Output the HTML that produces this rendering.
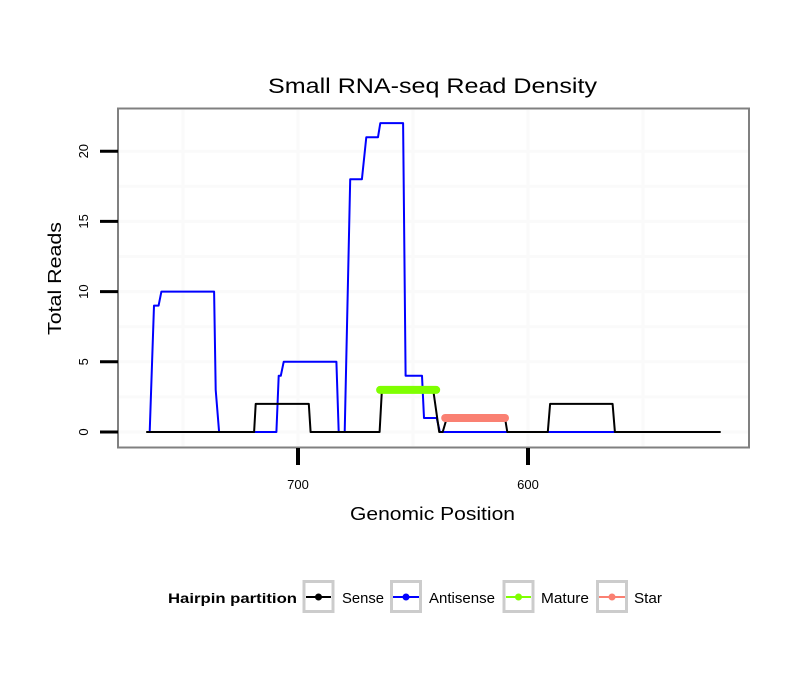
<!DOCTYPE html>
<html><head><meta charset="utf-8"><style>
body{margin:0;background:#fff;}
svg{display:block;font-family:"Liberation Sans",sans-serif;}
</style></head><body>
<svg id="chart" width="810" height="690" viewBox="0 0 810 690">
<rect x="0" y="0" width="810" height="690" fill="#fff"/>
<text x="268" y="93" font-size="21" textLength="329" lengthAdjust="spacingAndGlyphs" fill="#000">Small RNA-seq Read Density</text>
<g id="grid"></g>
<g id="series"></g>
<rect x="118" y="108.5" width="631" height="339" fill="none" stroke="#808080" stroke-width="2"/>
<g id="axes"></g>
<text x="350" y="520" font-size="18" textLength="165" lengthAdjust="spacingAndGlyphs">Genomic Position</text>
<text transform="translate(61,335) rotate(-90)" font-size="18" textLength="113" lengthAdjust="spacingAndGlyphs">Total Reads</text>
<g>
<text x="168" y="603" font-size="14" font-weight="bold" textLength="129" lengthAdjust="spacingAndGlyphs">Hairpin partition</text>
<g><rect x="304" y="581.5" width="29" height="30" fill="none" stroke="#ccc" stroke-width="3"/><line x1="306" y1="597" x2="331" y2="597" stroke="#000" stroke-width="2"/><circle cx="318.5" cy="597" r="3.5" fill="#000"/><text x="342" y="603" font-size="15" textLength="42" lengthAdjust="spacingAndGlyphs">Sense</text></g>
<g><rect x="391.5" y="581.5" width="29" height="30" fill="none" stroke="#ccc" stroke-width="3"/><line x1="393" y1="597" x2="419" y2="597" stroke="#0000ff" stroke-width="2"/><circle cx="406" cy="597" r="3.5" fill="#0000ff"/><text x="429" y="603" font-size="15" textLength="66" lengthAdjust="spacingAndGlyphs">Antisense</text></g>
<g><rect x="504" y="581.5" width="29" height="30" fill="none" stroke="#ccc" stroke-width="3"/><line x1="506" y1="597" x2="531" y2="597" stroke="#7fff00" stroke-width="2"/><circle cx="518.5" cy="597" r="3.5" fill="#7fff00"/><text x="541" y="603" font-size="15" textLength="48" lengthAdjust="spacingAndGlyphs">Mature</text></g>
<g><rect x="597.5" y="581.5" width="29" height="30" fill="none" stroke="#ccc" stroke-width="3"/><line x1="599" y1="597" x2="625" y2="597" stroke="#fa8072" stroke-width="2"/><circle cx="612" cy="597" r="3.5" fill="#fa8072"/><text x="634" y="603" font-size="15" textLength="28" lengthAdjust="spacingAndGlyphs">Star</text></g>
</g>
</svg>
<script>
const xTicks = [700, 600];
const xMinor = [750, 650, 550];
const yTicks = [0, 5, 10, 15, 20];
const yMinor = [2.5, 7.5, 12.5, 17.5];
const sensePos = [766, 719.1, 718.4, 695.3, 694.5, 664.5, 663.5, 641.2, 638.6, 637.1, 635.3, 610, 609, 591.4, 590.4, 563.2, 562.2, 516.2];
const senseVal = [0, 0, 2, 2, 0, 0, 3, 3, 0, 0, 1, 1, 0, 0, 2, 2, 0, 0];
const antiPos = [764.5, 762.6, 760.6, 759.4, 736.5, 735.8, 734.3, 709.4, 708.4, 707.5, 706.2, 683.3, 682.3, 679.7, 677.3, 672.2, 670.3, 665.2, 664.2, 654.3, 653.2, 646.1, 645.2, 639.7, 638.3, 516.5];
const antiVal = [0, 9, 9, 10, 10, 3, 0, 0, 4, 4, 5, 5, 0, 0, 18, 18, 21, 21, 22, 22, 4, 4, 1, 1, 0, 0];
const maturePos = [664.3, 639.9];
const matureVal = [3, 3];
const starPos = [636, 610];
const starVal = [1, 1];

const NS = 'http://www.w3.org/2000/svg';
const xs = p => 298 + (700 - p) * 2.3;
const ys = v => 432 - v * 14.04;
function mk(parent, tag, attrs) {
  const e = document.createElementNS(NS, tag);
  for (const k in attrs) e.setAttribute(k, attrs[k]);
  parent.appendChild(e);
  return e;
}
const grid = document.getElementById('grid');
const series = document.getElementById('series');
const axes = document.getElementById('axes');
yMinor.concat(yTicks).forEach(v => {
  const l = mk(grid, 'line', {x1: 119, x2: 748, y1: ys(v), y2: ys(v), stroke: '#fafafa', 'stroke-width': 3});
  
  
});
xMinor.concat(xTicks).forEach(p => {
  const l = mk(grid, 'line', {x1: xs(p), x2: xs(p), y1: 110, y2: 446, stroke: '#fafafa', 'stroke-width': 3});
  
  
});
function path(pos, val, color, width, name) {
  const d = pos.map((p, i) => (i ? 'L' : 'M') + xs(p).toFixed(1) + ' ' + ys(val[i]).toFixed(1)).join(' ');
  const e = mk(series, 'path', {d: d, fill: 'none', stroke: color, 'stroke-width': width, 'stroke-linecap': width > 4 ? 'round' : 'butt', 'stroke-linejoin': 'round'});
  
  
}
path(antiPos, antiVal, '#0000ff', 2, 'antisense-line');
path(sensePos, senseVal, '#000000', 2, 'sense-line');
path(maturePos, matureVal, '#7fff00', 8, 'mature-line');
path(starPos, starVal, '#fa8072', 8, 'star-line');
yTicks.forEach(v => {
  const t = mk(axes, 'line', {x1: 100, x2: 118, y1: ys(v), y2: ys(v), stroke: '#000', 'stroke-width': 3});
  
  
  const tx = mk(axes, 'text', {transform: 'translate(88,' + ys(v) + ') rotate(-90)', 'font-size': 13, 'text-anchor': 'middle'});
  tx.textContent = v;
  
  
});
xTicks.forEach(p => {
  const t = mk(axes, 'line', {x1: xs(p), x2: xs(p), y1: 448, y2: 465, stroke: '#000', 'stroke-width': 4});
  
  
  const tx = mk(axes, 'text', {x: xs(p), y: 489, 'font-size': 13, 'text-anchor': 'middle'});
  tx.textContent = p;
  
  
});
</script>
</body></html>
